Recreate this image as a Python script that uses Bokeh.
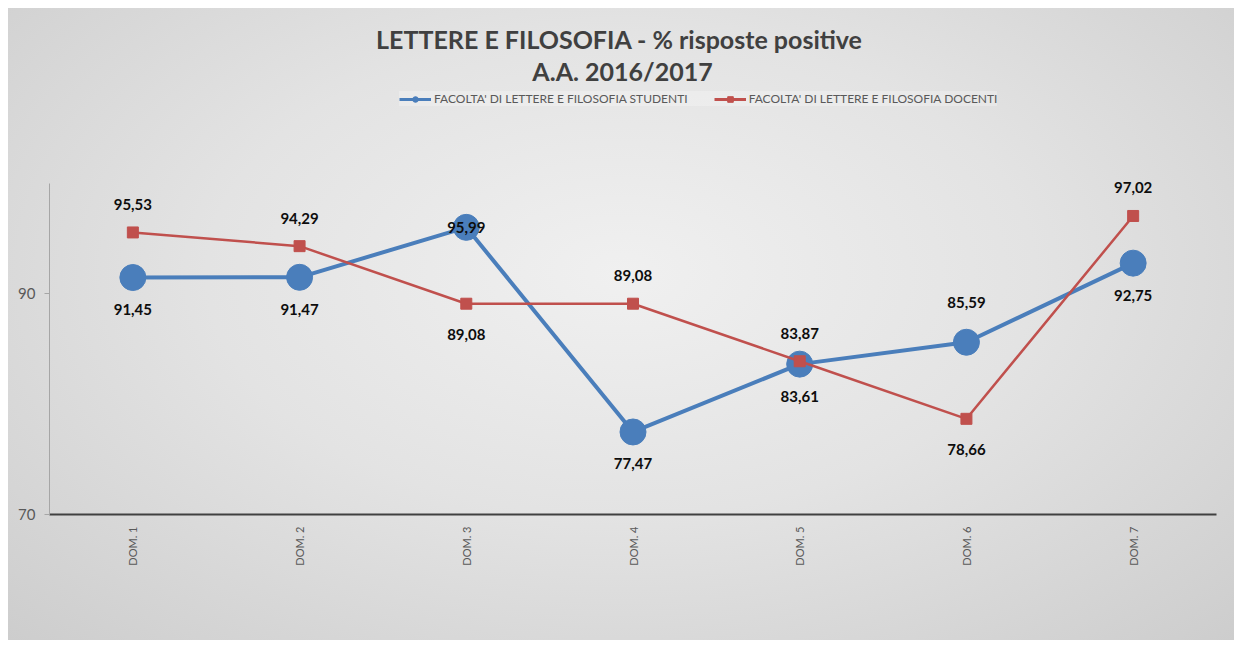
from bokeh.plotting import figure
from bokeh.models import (ColumnDataSource, FactorRange, Range1d, FixedTicker,
                          Legend, LegendItem, Label)
from bokeh.core.properties import value
from bokeh.embed import file_html
from bokeh.resources import INLINE
import math

# ---- data ----
categorie = ["DOM. 1", "DOM. 2", "DOM. 3", "DOM. 4", "DOM. 5", "DOM. 6", "DOM. 7"]
studenti = [91.45, 91.47, 95.99, 77.47, 83.61, 85.59, 92.75]
docenti = [95.53, 94.29, 89.08, 89.08, 83.87, 78.66, 97.02]
y_ticks = [70, 90]
serie_studenti = "FACOLTA' DI LETTERE E FILOSOFIA STUDENTI"
serie_docenti = "FACOLTA' DI LETTERE E FILOSOFIA DOCENTI"
titolo_1 = "LETTERE E FILOSOFIA  - % risposte positive"
titolo_2 = "A.A. 2016/2017"

# label placement (style)
pos_studenti = ["below", "below", "center", "below", "below", "above", "below"]
pos_docenti = ["above", "above", "below", "above", "above", "below", "above"]

BLUE = "#4a7ebb"
RED = "#c0504d"
FONT = "Lato"

W, H = 1226, 632
p = figure(width=W, height=H, x_range=FactorRange(factors=categorie),
           y_range=Range1d(70, 115.8), title=None,
           output_backend="svg", toolbar_location=None, tools="",
           min_border_left=41, min_border_right=18, min_border_top=0,
           min_border_bottom=126)
p.styles = {"background": "radial-gradient(ellipse 75% 85% at 50% 42%, #f0f0f0 0%, #e3e3e3 45%, #cbcbcb 100%)",
            "margin-left": "8px", "margin-top": "8px"}
p.background_fill_color = None
p.border_fill_color = None
p.outline_line_color = None
p.xgrid.visible = False
p.ygrid.visible = False

# axes
p.yaxis.ticker = FixedTicker(ticks=y_ticks)
p.yaxis.bounds = (70, 100)
p.yaxis.axis_line_color = "#a6a6a6"
p.yaxis.major_tick_line_color = "#a6a6a6"
p.yaxis.major_tick_in = 0
p.yaxis.major_tick_out = 5
p.yaxis.minor_tick_line_color = None
p.yaxis.major_label_text_font = FONT
p.yaxis.major_label_text_font_size = "15px"
p.yaxis.major_label_text_color = "#595959"
p.yaxis.major_label_standoff = 9

p.xaxis.axis_line_color = "#404040"
p.xaxis.axis_line_width = 2
p.xaxis.major_tick_line_color = None
p.xaxis.minor_tick_line_color = None
p.xaxis.major_label_orientation = math.pi / 2
p.xaxis.major_label_text_font = FONT
p.xaxis.major_label_text_font_size = "11px"
p.xaxis.major_label_text_color = "#595959"
p.xaxis.major_label_standoff = 6

def fmt(v):
    return f"{v:.2f}".replace(".", ",")

off_map_s = {"above": -40, "below": 32, "center": 0}
off_map_d = {"above": -28, "below": 31, "center": 0}

src_s = ColumnDataSource(dict(x=categorie, y=studenti,
                              t=[fmt(v) for v in studenti],
                              off=[off_map_s[k] for k in pos_studenti]))
src_d = ColumnDataSource(dict(x=categorie, y=docenti,
                              t=[fmt(v) for v in docenti],
                              off=[off_map_d[k] for k in pos_docenti]))

# series
p.line("x", "y", source=src_s, line_color=BLUE, line_width=4)
p.scatter("x", "y", source=src_s, marker="circle", size=26,
          fill_color=BLUE, line_color=BLUE)
p.line("x", "y", source=src_d, line_color=RED, line_width=2.5)
p.scatter("x", "y", source=src_d, marker="square", size=11,
          fill_color=RED, line_color=RED)

# data labels
for src in (src_s, src_d):
    p.text("x", "y", text="t", source=src, y_offset="off",
           text_align="center", text_baseline="middle",
           text_font=value(FONT), text_font_style="bold",
           text_font_size="15px", text_color="#0d0d0d")

# legend proxies (hidden in the plot, drawn only in the legend)
ls = p.line("x", "y", source=src_s, line_color=BLUE, line_width=3, visible=False)
ms = p.scatter("x", "y", source=src_s, marker="circle", size=7,
               fill_color=BLUE, line_color=BLUE, visible=False)
ld = p.line("x", "y", source=src_d, line_color=RED, line_width=3, visible=False)
md = p.scatter("x", "y", source=src_d, marker="square", size=8,
               fill_color=RED, line_color=RED, visible=False)
legend = Legend(items=[LegendItem(label=serie_studenti, renderers=[ls, ms]),
                       LegendItem(label=serie_docenti, renderers=[ld, md])],
                orientation="horizontal", location=(350, 408),
                label_text_font=FONT, label_text_font_size="12px",
                label_text_color="#595959", glyph_width=32, glyph_height=14,
                label_standoff=3, spacing=26, padding=6,
                background_fill_color="#ffffff", background_fill_alpha=0.25,
                border_line_color=None, inactive_fill_alpha=0.0)
p.add_layout(legend)

# titles
p.add_layout(Label(x=573, y=476, x_units="screen", y_units="screen",
                   text=titolo_1, text_align="center", text_baseline="middle",
                   text_font=FONT, text_font_style="bold",
                   text_font_size="25px", text_color="#404040"))
p.add_layout(Label(x=573, y=444, x_units="screen", y_units="screen",
                   text=titolo_2, text_align="center", text_baseline="middle",
                   text_font=FONT, text_font_style="bold",
                   text_font_size="25px", text_color="#404040"))

open("out.html", "w").write(file_html(p, INLINE))
